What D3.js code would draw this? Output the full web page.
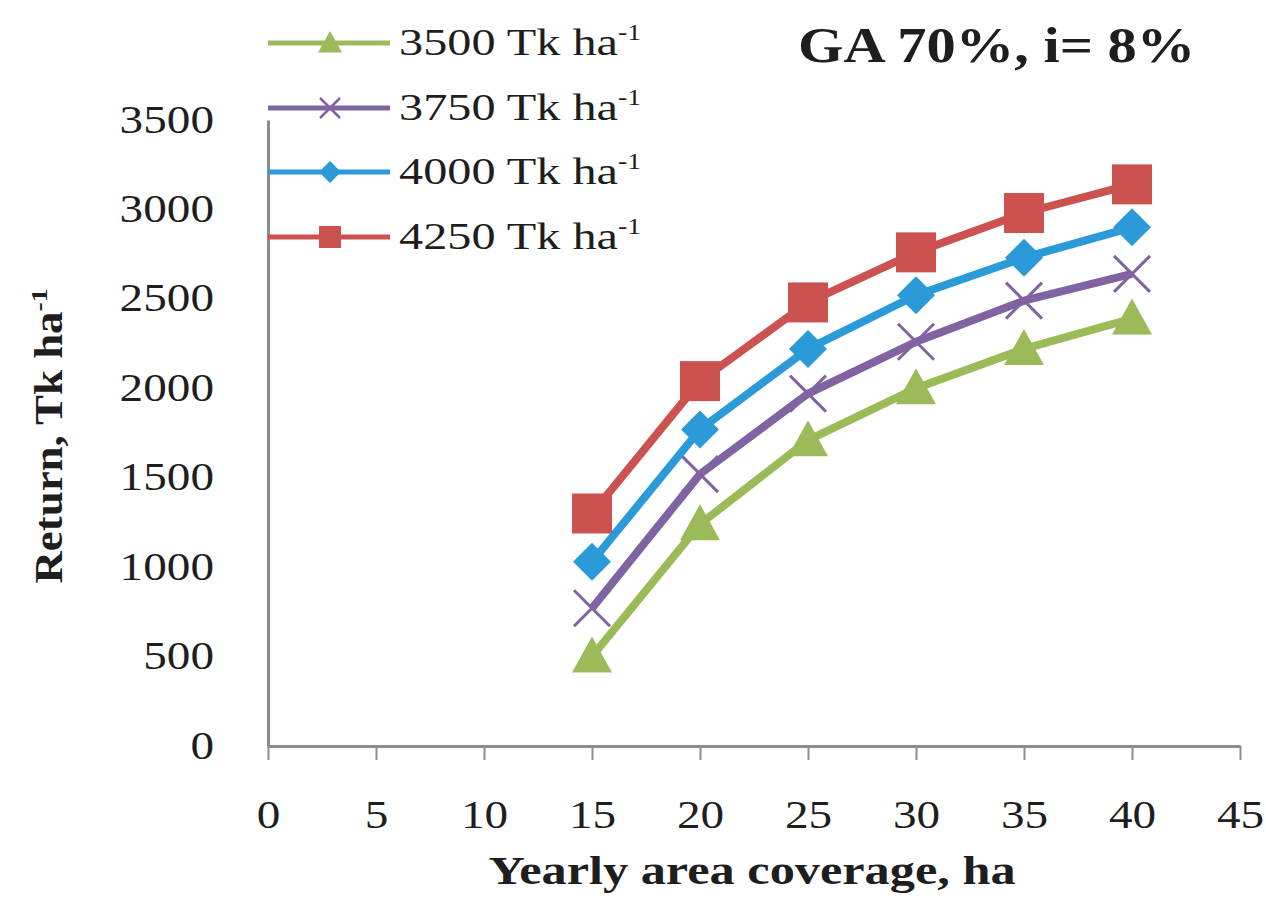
<!DOCTYPE html>
<html>
<head>
<meta charset="utf-8">
<script src="https://cdn.jsdelivr.net/npm/d3@7"></script>
<style>
  html, body { margin: 0; padding: 0; background: #ffffff; }
  svg { display: block; }
  text { font-family: "Liberation Serif", "Times New Roman", serif; fill: #1e1e1e; }
</style>
</head>
<body>
<svg id="chart" width="1266" height="903"></svg>
<script>
// Yearly area coverage (ha)
const coverage = [15, 20, 25, 30, 35, 40];

// Return (Tk/ha) for each custom hiring charge
const series3500 = [500, 1240, 1710, 2000, 2220, 2390];
const series3750 = [770, 1520, 1970, 2260, 2490, 2640];
const series4000 = [1030, 1770, 2220, 2520, 2730, 2900];
const series4250 = [1300, 2040, 2480, 2760, 2980, 3140];

const seriesNames = ["3500", "3750", "4000", "4250"];
const xTicks = [0, 5, 10, 15, 20, 25, 30, 35, 40, 45];
const yTicks = [0, 500, 1000, 1500, 2000, 2500, 3000, 3500];

const chartTitle = "GA 70%, i= 8%";
const xTitle = "Yearly area coverage, ha";
const yTitle = "Return, Tk ha";
const unitSup = "-1";

const series = [
  { name: seriesNames[0], values: series3500, color: "#9bbb59", marker: "triangle" },
  { name: seriesNames[1], values: series3750, color: "#8064a2", marker: "x" },
  { name: seriesNames[2], values: series4000, color: "#2b9ad8", marker: "diamond" },
  { name: seriesNames[3], values: series4250, color: "#cc5250", marker: "square" }
];

const svg = d3.select("#chart");

// Widen the serif glyphs to the proportions of a book-style face
function widen(sel, k) {
  sel.each(function () {
    const w = this.getComputedTextLength();
    d3.select(this).attr("textLength", w * k).attr("lengthAdjust", "spacingAndGlyphs");
  });
}

const x = d3.scaleLinear().domain([0, 45]).range([268, 1240]);
const y = d3.scaleLinear().domain([0, 3500]).range([746, 120]);

// Axes
const xAxis = svg.append("g").attr("transform", `translate(0,${y(0)})`)
  .call(d3.axisBottom(x).tickValues(xTicks).tickSize(14).tickPadding(44).tickSizeOuter(0));
xAxis.select(".domain").attr("stroke", "#8c8c8c").attr("stroke-width", 3);
xAxis.selectAll(".tick line").attr("stroke", "#8c8c8c").attr("stroke-width", 2);
xAxis.selectAll(".tick text").attr("font-size", 40).attr("font-family", "Liberation Serif").attr("fill", "#1e1e1e")
  .attr("y", 54).attr("dy", "0.71em");
widen(xAxis.selectAll(".tick text"), 1.18);

const yAxis = svg.append("g").attr("transform", `translate(${x(0)},0)`)
  .call(d3.axisLeft(y).tickValues(yTicks).tickFormat(d3.format("d")).tickSize(0).tickPadding(54).tickSizeOuter(0));
yAxis.select(".domain").attr("stroke", "#8c8c8c").attr("stroke-width", 3);
yAxis.selectAll(".tick text").attr("font-size", 40).attr("font-family", "Liberation Serif").attr("fill", "#1e1e1e")
  .attr("dy", "0.3em");
widen(yAxis.selectAll(".tick text"), 1.18);

// Axis titles
const xt = svg.append("text")
  .attr("x", (x(0) + x(45)) / 2 - 2).attr("y", 884)
  .attr("text-anchor", "middle").attr("font-weight", "bold").attr("font-size", 39)
  .text(xTitle);
widen(xt, 1.29);

const yt = svg.append("text")
  .attr("transform", `translate(62,436) rotate(-90)`)
  .attr("text-anchor", "middle").attr("font-weight", "bold").attr("font-size", 39);
const ytMain = yt.append("tspan").text(yTitle);
const ytSup = yt.append("tspan").attr("font-size", 24).attr("dy", -15).text(unitSup);
widen(ytMain, 1.15);
widen(ytSup, 1.15);

// Chart title
const ct = svg.append("text")
  .attr("x", 798).attr("y", 62).attr("font-weight", "bold").attr("font-size", 50)
  .text(chartTitle);
widen(ct, 1.17);

// Marker drawing helper
function drawMarker(g, type, cx, cy, s, color, xWidth) {
  const h = s / 2;
  if (type === "square") {
    g.append("rect").attr("x", cx - h).attr("y", cy - h)
      .attr("width", s).attr("height", s).attr("fill", color);
  } else if (type === "diamond") {
    g.append("path").attr("d", `M${cx},${cy - h}L${cx + h},${cy}L${cx},${cy + h}L${cx - h},${cy}Z`)
      .attr("fill", color);
  } else if (type === "triangle") {
    g.append("path").attr("d", `M${cx},${cy - h}L${cx + h},${cy + h * 0.8}L${cx - h},${cy + h * 0.8}Z`)
      .attr("fill", color);
  } else if (type === "x") {
    g.append("path").attr("d", `M${cx - h},${cy - h}L${cx + h},${cy + h}M${cx + h},${cy - h}L${cx - h},${cy + h}`)
      .attr("stroke", color).attr("stroke-width", xWidth).attr("fill", "none");
  }
}

const markerSize = { square: 40, diamond: 38, triangle: 40, x: 36 };
const legendMarkerSize = { square: 22, diamond: 22, triangle: 24, x: 20 };

// Series lines and markers
const line = d3.line().x((d, i) => x(coverage[i])).y(d => y(d));
series.forEach(s => {
  const g = svg.append("g");
  g.append("path").datum(s.values).attr("d", line)
    .attr("fill", "none").attr("stroke", s.color).attr("stroke-width", 8)
    .attr("stroke-linejoin", "round");
  s.values.forEach((v, i) => drawMarker(g, s.marker, x(coverage[i]), y(v), markerSize[s.marker], s.color, 3));
});

// Legend
const legendY = [43, 108, 172, 237];
series.forEach((s, i) => {
  const g = svg.append("g");
  const ly = legendY[i];
  g.append("line").attr("x1", 268).attr("x2", 390).attr("y1", ly).attr("y2", ly)
    .attr("stroke", s.color).attr("stroke-width", 5);
  drawMarker(g, s.marker, 330, ly, legendMarkerSize[s.marker], s.color, 2.5);
  const t = g.append("text").attr("x", 399).attr("y", ly + 12).attr("font-size", 38);
  const main = t.append("tspan").text(`${s.name} Tk ha`);
  const sup = t.append("tspan").attr("font-size", 23).attr("dy", -15).text(unitSup);
  widen(main, 1.27);
  widen(sup, 1.2);
});
</script>
</body>
</html>
